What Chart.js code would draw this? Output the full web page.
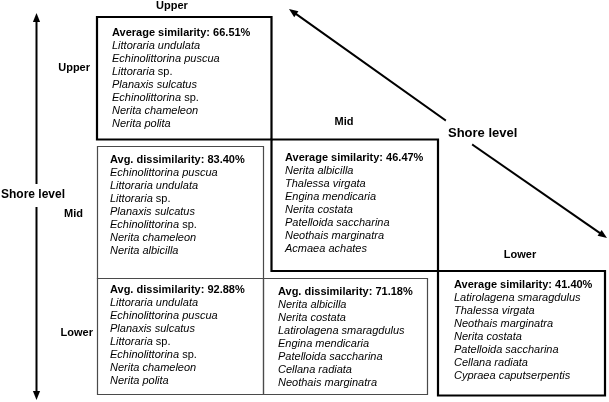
<!DOCTYPE html>
<html><head><meta charset="utf-8">
<script src="https://cdn.jsdelivr.net/npm/chart.js@4/dist/chart.umd.min.js"></script>
<style>html,body{margin:0;padding:0;background:#fff}canvas{display:block}</style>
</head><body>
<canvas id="c" width="609" height="402"></canvas>
<script>
// ---------- data ----------
const zones = ['Upper', 'Mid', 'Lower'];
const axisTitle = 'Shore level';
const similarity = [66.51, 46.47, 41.40];            // Upper, Mid, Lower
const dissimilarityPairs = ['Upper-Mid', 'Upper-Lower', 'Mid-Lower'];
const dissimilarity = [83.40, 92.88, 71.18];
const speciesUpper = ['Littoraria undulata', 'Echinolittorina puscua', 'Littoraria sp.', 'Planaxis sulcatus', 'Echinolittorina sp.', 'Nerita chameleon', 'Nerita polita'];
const speciesMid = ['Nerita albicilla', 'Thalessa virgata', 'Engina mendicaria', 'Nerita costata', 'Patelloida saccharina', 'Neothais marginatra', 'Acmaea achates'];
const speciesLower = ['Latirolagena smaragdulus', 'Thalessa virgata', 'Neothais marginatra', 'Nerita costata', 'Patelloida saccharina', 'Cellana radiata', 'Cypraea caputserpentis'];
const speciesUpperMid = ['Echinolittorina puscua', 'Littoraria undulata', 'Littoraria sp.', 'Planaxis sulcatus', 'Echinolittorina sp.', 'Nerita chameleon', 'Nerita albicilla'];
const speciesUpperLower = ['Littoraria undulata', 'Echinolittorina puscua', 'Planaxis sulcatus', 'Littoraria sp.', 'Echinolittorina sp.', 'Nerita chameleon', 'Nerita polita'];
const speciesMidLower = ['Nerita albicilla', 'Nerita costata', 'Latirolagena smaragdulus', 'Engina mendicaria', 'Patelloida saccharina', 'Cellana radiata', 'Neothais marginatra'];

// ---------- layout (diagram units = scale values) ----------
const W = 609, H = 402;
const simBoxes = [
  {l: 97, t: 17, r: 271.5, b: 139.5, tx: 112, ty: 33},
  {l: 271.5, t: 139.5, r: 438, b: 271, tx: 285, ty: 158},
  {l: 438, t: 271, r: 605, b: 395.5, tx: 454, ty: 285}
];
const disBoxes = [
  {l: 97.5, t: 146.5, r: 263.5, b: 278.5, tx: 110, ty: 160},
  {l: 97.5, t: 278.5, r: 263.5, b: 394.5, tx: 110, ty: 290},
  {l: 263.5, t: 278.5, r: 427.5, b: 394.5, tx: 278, ty: 292}
];
const lineGap = 13;
const topLabels = [{x: 172, y: 6, a: 'center'}, {x: 344, y: 122, a: 'center'}, {x: 520, y: 255, a: 'center'}];
const sideLabels = [{x: 90, y: 68}, {x: 83, y: 214}, {x: 93, y: 333}];
const arrows = [
  {from: [36.5, 183], to: [36.5, 13]},
  {from: [36.5, 208], to: [36.5, 400]},
  {from: [445, 120], to: [289, 9]},
  {from: [473, 145], to: [607, 238]}
];

function rect(b) {
  return [{x: b.l, y: b.t}, {x: b.r, y: b.t}, {x: b.r, y: b.b}, {x: b.l, y: b.b}, {x: b.l, y: b.t}];
}
const datasets = [];
disBoxes.forEach(b => datasets.push({data: rect(b), borderColor: '#4a4a4a', borderWidth: 1.2}));
simBoxes.forEach(b => datasets.push({data: rect(b), borderColor: '#000', borderWidth: 2.2}));
arrows.forEach(a => {
  // stop the shaft a bit before the tip so the head is clean
  const dx = a.to[0] - a.from[0], dy = a.to[1] - a.from[1], L = Math.hypot(dx, dy);
  const ex = a.to[0] - dx / L * 6, ey = a.to[1] - dy / L * 6;
  datasets.push({data: [{x: a.from[0], y: a.from[1]}, {x: ex, y: ey}], borderColor: '#000', borderWidth: 2});
});
datasets.forEach(d => Object.assign(d, {showLine: true, pointRadius: 0, tension: 0, clip: false, fill: false, borderJoinStyle: 'miter', borderCapStyle: 'square'}));

const FONT = '"Liberation Sans", Arial, sans-serif';
function drawSpecies(ctx, name, x, y) {
  const m = name.match(/^(.*) (sp\.)$/);
  if (m) {
    ctx.font = 'italic 11px ' + FONT;
    ctx.fillText(m[1], x, y);
    const w = ctx.measureText(m[1] + ' ').width;
    ctx.font = '11px ' + FONT;
    ctx.fillText(m[2], x + w, y);
  } else {
    ctx.font = 'italic 11px ' + FONT;
    ctx.fillText(name, x, y);
  }
}

const textPlugin = {
  id: 'diagramText',
  afterDatasetsDraw(chart) {
    const ctx = chart.ctx, xs = chart.scales.x, ys = chart.scales.y;
    const px = v => xs.getPixelForValue(v), py = v => ys.getPixelForValue(v);
    ctx.save();
    ctx.fillStyle = '#000';
    ctx.textBaseline = 'middle';
    // arrow heads
    arrows.forEach(a => {
      const x1 = px(a.from[0]), y1 = py(a.from[1]), x2 = px(a.to[0]), y2 = py(a.to[1]);
      const ang = Math.atan2(y2 - y1, x2 - x1), len = 9, hw = 3.6;
      ctx.beginPath();
      ctx.moveTo(x2, y2);
      ctx.lineTo(x2 - len * Math.cos(ang) + hw * Math.sin(ang), y2 - len * Math.sin(ang) - hw * Math.cos(ang));
      ctx.lineTo(x2 - len * Math.cos(ang) - hw * Math.sin(ang), y2 - len * Math.sin(ang) + hw * Math.cos(ang));
      ctx.closePath();
      ctx.fill();
    });
    // box texts
    const simLists = [speciesUpper, speciesMid, speciesLower];
    const disLists = [speciesUpperMid, speciesUpperLower, speciesMidLower];
    ctx.textAlign = 'left';
    simBoxes.forEach((b, i) => {
      ctx.font = 'bold 11px ' + FONT;
      ctx.fillText('Average similarity: ' + similarity[i].toFixed(2) + '%', px(b.tx), py(b.ty));
      simLists[i].forEach((s, j) => drawSpecies(ctx, s, px(b.tx), py(b.ty + lineGap * (j + 1))));
    });
    disBoxes.forEach((b, i) => {
      ctx.font = 'bold 11px ' + FONT;
      ctx.fillText('Avg. dissimilarity: ' + dissimilarity[i].toFixed(2) + '%', px(b.tx), py(b.ty));
      disLists[i].forEach((s, j) => drawSpecies(ctx, s, px(b.tx), py(b.ty + lineGap * (j + 1))));
    });
    // zone labels
    ctx.font = 'bold 11px ' + FONT;
    zones.forEach((z, i) => {
      ctx.textAlign = 'center';
      ctx.fillText(z, px(topLabels[i].x), py(topLabels[i].y));
      ctx.textAlign = 'right';
      ctx.fillText(z, px(sideLabels[i].x), py(sideLabels[i].y));
    });
    // axis titles
    ctx.textAlign = 'left';
    ctx.font = 'bold 12px ' + FONT;
    ctx.fillText(axisTitle, px(1), py(195));
    ctx.font = 'bold 13px ' + FONT;
    ctx.fillText(axisTitle, px(448), py(133));
    ctx.restore();
  }
};

new Chart(document.getElementById('c'), {
  type: 'scatter',
  data: {datasets},
  options: {
    responsive: false,
    animation: false,
    devicePixelRatio: 1,
    layout: {padding: 0},
    plugins: {legend: {display: false}, tooltip: {enabled: false}},
    scales: {
      x: {type: 'linear', min: 0, max: W, display: false},
      y: {type: 'linear', min: 0, max: H, reverse: true, display: false}
    }
  },
  plugins: [textPlugin]
});
</script>
</body></html>
